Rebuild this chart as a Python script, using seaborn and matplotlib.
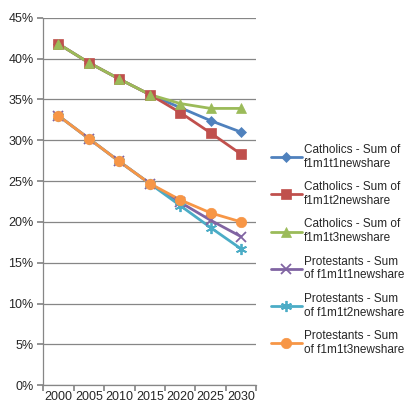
"""
Catholic / Protestant newshare projections, Excel-style line chart
"""
import numpy as np
import pandas as pd
import matplotlib
matplotlib.use('Agg')
import matplotlib.pyplot as plt
import seaborn as sns
from matplotlib.ticker import FixedLocator, PercentFormatter

years = ['2000', '2005', '2010', '2015', '2020', '2025', '2030']

series_names = [
    'Catholics - Sum of\nf1m1t1newshare',
    'Catholics - Sum of\nf1m1t2newshare',
    'Catholics - Sum of\nf1m1t3newshare',
    'Protestants - Sum\nof f1m1t1newshare',
    'Protestants - Sum\nof f1m1t2newshare',
    'Protestants - Sum\nof f1m1t3newshare',
]

cath_t1 = [41.8, 39.5, 37.5, 35.6, 34.0, 32.4, 31.0]
cath_t2 = [41.8, 39.5, 37.5, 35.6, 33.4, 30.9, 28.3]
cath_t3 = [41.8, 39.5, 37.5, 35.6, 34.5, 33.9, 33.9]
prot_t1 = [33.0, 30.2, 27.4, 24.7, 22.4, 20.2, 18.2]
prot_t2 = [33.0, 30.2, 27.4, 24.7, 22.0, 19.3, 16.7]
prot_t3 = [33.0, 30.2, 27.4, 24.7, 22.7, 21.1, 20.0]

colors = ['#4F81BD', '#C0504D', '#9BBB59', '#8064A2', '#4BACC6', '#F79646']
markers = ['D', 's', '^', 'x', (6, 2, 0), 'o']
msizes = [5.5, 6.5, 7.5, 7, 8, 7.5]

all_values = [cath_t1, cath_t2, cath_t3, prot_t1, prot_t2, prot_t3]
frames = []
for name, vals in zip(series_names, all_values):
    frames.append(pd.DataFrame({'pos': np.arange(len(years)), 'share': vals, 'series': name}))
df = pd.concat(frames, ignore_index=True)

sns.set_theme(style='white')
plt.rcParams['font.family'] = ['Liberation Sans', 'DejaVu Sans']
FS = 9.0
LFS = 8.5
LW = 2.0

fig = plt.figure(figsize=(4.12, 4.05), dpi=100)
ax = fig.add_axes([0.105, 0.049, 0.517, 0.907])

sns.lineplot(data=df, x='pos', y='share', hue='series', hue_order=series_names,
             palette=colors, linewidth=LW, ax=ax, legend=False, zorder=3)


def marker_style(i):
    m = markers[i]
    filled = m != 'x' and not isinstance(m, tuple)
    return dict(marker=m, markersize=msizes[i], color=colors[i],
                markeredgewidth=0.5 if filled else 1.3)


# markers drawn per series so each gets its own size / style
for i, vals in enumerate(all_values):
    ax.plot(np.arange(len(years)), vals, linestyle='none', zorder=4, **marker_style(i))

ax.set_xlim(-0.5, len(years) - 0.5)
ax.set_ylim(0, 45)
ax.yaxis.set_major_locator(FixedLocator(np.arange(0, 46, 5)))
ax.yaxis.set_major_formatter(PercentFormatter(decimals=0))
ax.grid(axis='y', color='#868686', linewidth=0.9)
ax.set_axisbelow(True)

ax.xaxis.set_major_locator(FixedLocator(np.arange(-0.5, len(years), 1)))
ax.xaxis.set_minor_locator(FixedLocator(np.arange(len(years))))
ax.set_xticklabels([], minor=False)
ax.set_xticklabels(years, minor=True)
ax.tick_params(axis='x', which='major', length=4, color='#868686', direction='out', bottom=True)
ax.tick_params(axis='x', which='minor', length=0, pad=4, labelsize=FS)
ax.tick_params(axis='y', length=4, color='#868686', direction='out', left=True, labelsize=FS, pad=3)
ax.set_xlabel('')
ax.set_ylabel('')

for side in ['top', 'right']:
    ax.spines[side].set_visible(False)
for side in ['left', 'bottom']:
    ax.spines[side].set_color('#868686')
    ax.spines[side].set_linewidth(0.9)

handles = []
for i in range(len(series_names)):
    h, = ax.plot([], [], linewidth=LW, **marker_style(i))
    handles.append(h)
fig.legend(handles, series_names, loc='center left', bbox_to_anchor=(0.658, 0.383),
           frameon=False, fontsize=LFS, handlelength=2.6, handletextpad=0.2,
           labelspacing=0.97, borderpad=0, borderaxespad=0)

fig.savefig('out.png', dpi=100)
